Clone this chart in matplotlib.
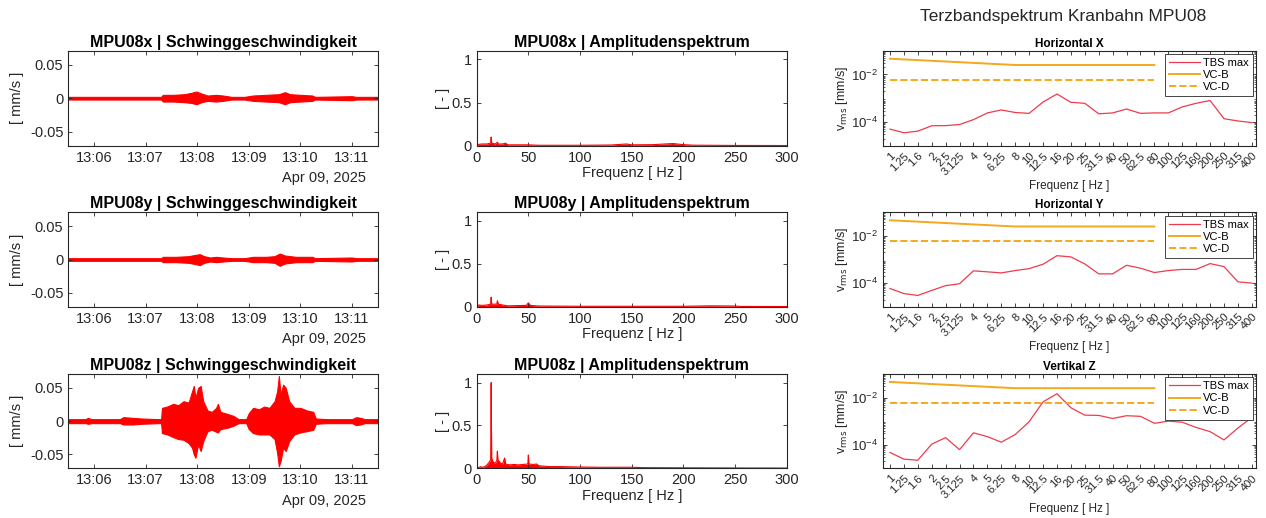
import numpy as np
import pandas as pd
import matplotlib
matplotlib.use("Agg")
import matplotlib.pyplot as plt
import matplotlib.dates as mdates
from matplotlib.ticker import LogLocator, NullFormatter

plt.rcParams['font.family'] = ['Liberation Sans', 'DejaVu Sans']

# time axis: seconds after 13:05:30 on 09.04.2025
t_start = pd.Timestamp("2025-04-09 13:05:30")

# signal envelopes (mm/s)
x_sec = [0, 100, 108, 110, 122, 135, 143, 149, 155, 162, 172, 180, 190, 205, 215, 230, 245, 252, 258, 270, 284, 287, 330, 335, 360]
x_hi = [0.002, 0.002, 0.002, 0.005, 0.005, 0.006, 0.008, 0.010, 0.007, 0.004, 0.005, 0.004, 0.002, 0.002, 0.004, 0.005, 0.006, 0.009, 0.006, 0.005, 0.004, 0.002, 0.003, 0.002, 0.002]
x_lo = [-0.002, -0.002, -0.002, -0.005, -0.005, -0.006, -0.007, -0.009, -0.006, -0.004, -0.005, -0.004, -0.002, -0.002, -0.004, -0.005, -0.006, -0.009, -0.006, -0.005, -0.004, -0.002, -0.003, -0.002, -0.002]

y_sec = [0, 100, 108, 110, 125, 140, 148, 153, 158, 165, 172, 180, 190, 205, 215, 230, 240, 246, 252, 265, 284, 287, 330, 335, 360]
y_hi = [0.002, 0.002, 0.002, 0.004, 0.004, 0.005, 0.007, 0.008, 0.005, 0.003, 0.004, 0.003, 0.002, 0.002, 0.004, 0.004, 0.005, 0.009, 0.006, 0.004, 0.004, 0.002, 0.003, 0.002, 0.002]
y_lo = [-0.002, -0.002, -0.002, -0.004, -0.004, -0.005, -0.007, -0.0085, -0.005, -0.003, -0.004, -0.003, -0.002, -0.002, -0.004, -0.004, -0.005, -0.0095, -0.006, -0.004, -0.004, -0.002, -0.003, -0.002, -0.002]

z_sec = [0, 20, 23, 27, 60, 64, 75, 85, 105, 108, 109, 115, 122, 128, 134, 140, 144, 146, 148, 151, 154, 157, 162, 167, 172, 174, 177, 185, 192, 198,
         207, 210, 215, 222, 228, 234, 240, 243, 245, 247, 250, 253, 257, 263, 270, 278, 285, 288, 300, 330, 335, 340, 345, 360]
z_hi = [0.003, 0.003, 0.005, 0.003, 0.003, 0.006, 0.005, 0.004, 0.003, 0.003, 0.020, 0.022, 0.026, 0.024, 0.030, 0.028, 0.045, 0.053, 0.035, 0.050, 0.053, 0.030, 0.016, 0.014, 0.020, 0.026, 0.014, 0.011, 0.008, 0.003,
        0.003, 0.012, 0.020, 0.018, 0.022, 0.020, 0.030, 0.045, 0.068, 0.040, 0.055, 0.050, 0.030, 0.020, 0.020, 0.016, 0.014, 0.004, 0.003, 0.003, 0.006, 0.005, 0.003, 0.003]
z_lo = [-0.003, -0.003, -0.004, -0.003, -0.003, -0.005, -0.005, -0.004, -0.003, -0.003, -0.018, -0.020, -0.024, -0.027, -0.028, -0.033, -0.040, -0.050, -0.055, -0.035, -0.045, -0.030, -0.015, -0.013, -0.016, -0.017, -0.012, -0.010, -0.007, -0.003,
        -0.003, -0.012, -0.018, -0.020, -0.020, -0.020, -0.027, -0.048, -0.068, -0.060, -0.040, -0.045, -0.030, -0.020, -0.017, -0.015, -0.013, -0.004, -0.003, -0.003, -0.006, -0.005, -0.003, -0.003]

# normalised amplitude spectra
x_f = [0, 2, 5, 10, 13.5, 14, 14.5, 18, 20, 21, 25, 28, 30, 50, 60, 100, 130, 145, 150, 170, 190, 200, 210, 250, 300]
x_a = [0, 0.015, 0.02, 0.02, 0.03, 0.10, 0.03, 0.02, 0.04, 0.02, 0.02, 0.03, 0.01, 0.01, 0.005, 0.005, 0.008, 0.02, 0.01, 0.012, 0.025, 0.012, 0.006, 0.003, 0.002]

y_f = [0, 2, 5, 10, 13.5, 14, 14.5, 19.5, 20, 21, 25, 30, 48, 50, 52, 60, 100, 150, 200, 225, 250, 255, 300]
y_a = [0, 0.02, 0.015, 0.02, 0.03, 0.11, 0.03, 0.03, 0.07, 0.03, 0.02, 0.01, 0.015, 0.045, 0.015, 0.008, 0.005, 0.005, 0.005, 0.01, 0.008, 0.003, 0.002]

z_f = [0, 2, 4, 5, 8, 10, 12, 13.5, 14, 14.5, 16, 18, 19.5, 20, 20.5, 23, 25, 27, 28, 32, 36, 40, 45, 49.5, 50, 50.5, 55, 58, 60, 70, 80, 100, 120, 150, 160, 200, 250, 300]
z_a = [0, 0.01, 0.02, 0.01, 0.02, 0.04, 0.07, 0.10, 1.0, 0.12, 0.07, 0.06, 0.09, 0.20, 0.10, 0.06, 0.05, 0.12, 0.05, 0.04, 0.045, 0.04, 0.045, 0.05, 0.155, 0.05, 0.045, 0.05, 0.03, 0.02, 0.02, 0.015, 0.012, 0.012, 0.008, 0.006, 0.004, 0.003]

# third-octave spectrum
bands = ["1", "1.25", "1.6", "2", "2.5", "3.125", "4", "5", "6.25", "8", "10", "12.5", "16", "20", "25", "31.5",
         "40", "50", "62.5", "80", "100", "125", "160", "200", "250", "315", "400"]
tbs_x = [5.0e-5, 3.5e-5, 4.1e-5, 6.9e-5, 7.0e-5, 7.8e-5, 1.25e-4, 2.4e-4, 3.2e-4, 2.5e-4, 2.3e-4, 6.9e-4, 1.5e-3, 6.7e-4,
         6.1e-4, 2.2e-4, 2.4e-4, 3.5e-4, 2.3e-4, 2.4e-4, 2.4e-4, 4.3e-4, 6.1e-4, 8.0e-4, 1.37e-4, 1.1e-4, 9.4e-5]
tbs_y = [5.9e-5, 3.6e-5, 3.0e-5, 4.9e-5, 7.8e-5, 9.4e-5, 3.3e-4, 3.0e-4, 2.7e-4, 3.4e-4, 4.1e-4, 6.3e-4, 1.45e-3, 1.29e-3,
         6.5e-4, 2.46e-4, 2.46e-4, 5.7e-4, 4.3e-4, 2.8e-4, 3.4e-4, 3.8e-4, 3.8e-4, 6.7e-4, 5.0e-4, 1.13e-4, 1.0e-4]
tbs_z = [4.7e-5, 2.45e-5, 2.2e-5, 1.06e-4, 2.0e-4, 6.2e-5, 3.2e-4, 2.2e-4, 1.28e-4, 2.7e-4, 9.5e-4, 6.6e-3, 1.45e-2, 3.7e-3,
         1.8e-3, 1.75e-3, 1.3e-3, 1.7e-3, 1.6e-3, 8.1e-4, 1.0e-3, 9.0e-4, 5.4e-4, 3.6e-4, 1.6e-4, 5.1e-4, 1.44e-3]
vcb_bands = ["1", "8", "80"]
vcb_vals = [0.046, 0.025, 0.025]
vcd_bands = ["1", "80"]
vcd_vals = [0.006, 0.006]

channels = ["x", "y", "z"]
tbs_titles = ["Horizontal X", "Horizontal Y", "Vertikal Z"]
signals = [(x_sec, x_hi, x_lo), (y_sec, y_hi, y_lo), (z_sec, z_hi, z_lo)]
spectra = [(x_f, x_a), (y_f, y_a), (z_f, z_a)]
tbs = [tbs_x, tbs_y, tbs_z]

W, H = 1266, 518
fig = plt.figure(figsize=(W / 100, H / 100), dpi=100)
rows = [(50.7, 145.7), (212.3, 306.7), (374, 468.3)]
cols = [(68.3, 377.7), (476.7, 786.7), (883, 1256)]

def make_ax(col, row):
    l, r = cols[col]
    t, b = rows[row]
    return fig.add_axes([l / W, 1 - b / H, (r - l) / W, (b - t) / H])

def style(ax, size):
    for s in ax.spines.values():
        s.set_color("#262626")
        s.set_linewidth(0.8)
    ax.tick_params(direction="in", top=True, right=True, labelsize=size, colors="#262626", length=3, width=0.6)

text_col = "#262626"
for i, ch in enumerate(channels):
    # time signal
    ax = make_ax(0, i)
    sec, hi, lo = signals[i]
    t = t_start + pd.to_timedelta(sec, unit="s")
    ax.fill_between(t, lo, hi, color="red", edgecolor="red", linewidth=0.8)
    ax.set_xlim(t_start, t_start + pd.Timedelta(seconds=360))
    ax.set_ylim(-0.071, 0.071)
    ax.set_yticks([-0.05, 0, 0.05], ["-0.05", "0", "0.05"])
    ax.xaxis.set_major_locator(mdates.MinuteLocator())
    ax.xaxis.set_major_formatter(mdates.DateFormatter("%H:%M"))
    style(ax, 10.5)
    ax.set_ylabel("[ mm/s ]", fontsize=10.5, color=text_col)
    ax.set_title(f"MPU08{ch} | Schwinggeschwindigkeit", fontsize=11.5, fontweight="bold", pad=3)
    ax.text(0.961, -0.27, "Apr 09, 2025", transform=ax.transAxes, ha="right", va="top", fontsize=10.5, color=text_col)

    # amplitude spectrum
    ax = make_ax(1, i)
    f, a = spectra[i]
    ax.fill_between(f, 0, a, color="red", linewidth=0)
    ax.plot(f, a, color="red", linewidth=0.8)
    ax.set_xlim(0, 300)
    ax.set_ylim(0, 1.1)
    ax.set_xticks(range(0, 301, 50))
    ax.set_yticks([0, 0.5, 1], ["0", "0.5", "1"])
    style(ax, 10.5)
    ax.set_ylabel("[ - ]", fontsize=10.5, color=text_col, labelpad=1)
    ax.set_xlabel("Frequenz [ Hz ]", fontsize=10.5, color=text_col, labelpad=1)
    ax.set_title(f"MPU08{ch} | Amplitudenspektrum", fontsize=11.5, fontweight="bold", pad=3)

    # third-octave band spectrum
    ax = make_ax(2, i)
    pos = np.arange(1, len(bands) + 1)
    ax.plot(pos, tbs[i], color="#ee3b4e", linewidth=0.9, label="TBS max")
    ax.plot([bands.index(b) + 1 for b in vcb_bands], vcb_vals, color="#f4a81c", linewidth=1.4, label="VC-B")
    ax.plot([bands.index(b) + 1 for b in vcd_bands], vcd_vals, color="#f4a81c", linewidth=1.4, linestyle="--", label="VC-D")
    ax.set_yscale("log")
    ax.set_ylim(1e-5, 1e-1)
    ax.set_xlim(0.5, 27.3)
    ax.set_yticks([1e-4, 1e-2])
    ax.yaxis.set_minor_locator(LogLocator(base=10, subs=np.arange(2, 10), numticks=20))
    ax.yaxis.set_minor_formatter(NullFormatter())
    ax.set_xticks(pos, bands, rotation=45, ha="right", rotation_mode="anchor")
    style(ax, 8)
    ax.tick_params(axis="y", labelsize=9.5)
    ax.tick_params(which="minor", direction="in", right=True, length=1.5, width=0.5, colors="#262626")
    ax.set_ylabel(r"v$_{\mathrm{rms}}$ [mm/s]", fontsize=9, color=text_col, labelpad=1)
    ax.set_xlabel("Frequenz [ Hz ]", fontsize=8.5, color=text_col, labelpad=2)
    ax.set_title(tbs_titles[i], fontsize=8.5, fontweight="bold", pad=3)
    leg = ax.legend(loc="upper right", fontsize=8, fancybox=False, framealpha=1, borderaxespad=0.3,
                    handlelength=2.8, labelspacing=0.2, borderpad=0.35, handletextpad=0.3)
    leg.get_frame().set_edgecolor("#262626")
    leg.get_frame().set_linewidth(0.6)

fig.text(0.84, 0.968, "Terzbandspektrum Kranbahn MPU08", ha="center", va="center", fontsize=12.5, color="#262626")

fig.savefig("out.png", dpi=100)
